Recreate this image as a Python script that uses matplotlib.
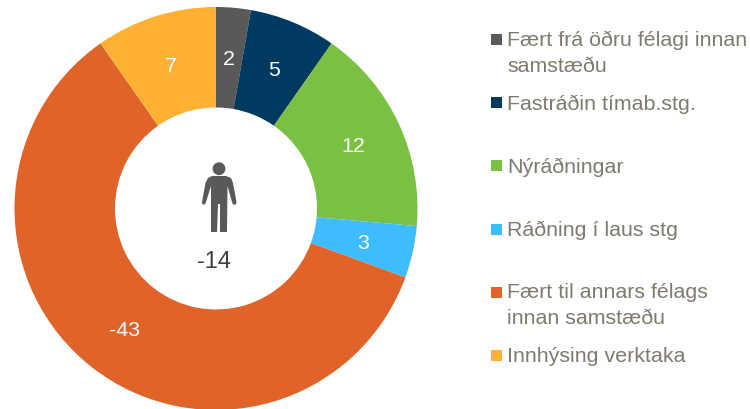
import matplotlib
matplotlib.use('Agg')
import matplotlib.pyplot as plt
from matplotlib.patches import Circle, Polygon, Rectangle

plt.rcParams['font.family'] = ['Liberation Sans', 'DejaVu Sans']

categories = ['Fært frá öðru félagi innan\nsamstæðu', 'Fastráðin tímab.stg.', 'Nýráðningar',
              'Ráðning í laus stg', 'Fært til annars félags\ninnan samstæðu', 'Innhýsing verktaka']
values = [2, 5, 12, 3, 43, 7]
labels = ['2', '5', '12', '3', '-43', '7']
colors = ['#595959', '#003a60', '#7ac143', '#3dbcff', '#e0632a', '#ffb133']
total_label = '-14'

W, H = 750, 409
legend_y = [34, 97, 160, 224, 287, 350]
legend_base = [46, 110, 173, 236, 298, 362]
text_col = '#7f7a6e'
icon_col = '#58595b'

fig = plt.figure(figsize=(7.5, 4.09), dpi=100)
ax = fig.add_axes([0, 0, 1, 1])

ax.pie(values, labels=labels, colors=colors, startangle=90, counterclock=False,
       center=(216, H - 208.5), radius=201.5, labeldistance=0.75, frame=True,
       wedgeprops=dict(width=100.5, linewidth=0),
       textprops=dict(color='white', fontsize=15.4, ha='center', va='center'))
for t in ax.texts:
    t.set_ha('center')
    t.set_va('center')
    t.set_y(t.get_position()[1] - 2)

ax.set_xlim(0, W)
ax.set_ylim(0, H)
ax.set_aspect('auto')
ax.axis('off')

# person icon in the hole
ax.add_patch(Circle((219, H - 168.7), 6.4, color=icon_col, lw=0))
body = [(208, 178), (212, 176), (226, 176), (231, 178), (233, 183), (236.5, 202), (236, 204.5),
        (233, 204.5), (232, 202), (227.5, 186), (227, 232), (220, 232), (220, 204), (218, 204),
        (217, 232), (211, 232), (211, 186), (206, 202), (205, 204.5), (202.5, 204.5), (202, 202), (205.5, 183)]
ax.add_patch(Polygon([(x, H - y) for x, y in body], closed=True, color=icon_col, lw=0))
ax.text(214, H - 261.5, total_label, color='#404040', fontsize=17, ha='center', va='center')

for name, c, y, base in zip(categories, colors, legend_y, legend_base):
    ax.add_patch(Rectangle((491, H - y - 11), 11, 11, color=c, lw=0))
    for i, line in enumerate(name.split('\n')):
        ax.text(507, H - base - i * 25.5, line, color=text_col, fontsize=15.4, ha='left', va='baseline')

fig.savefig('out.png', dpi=100)
